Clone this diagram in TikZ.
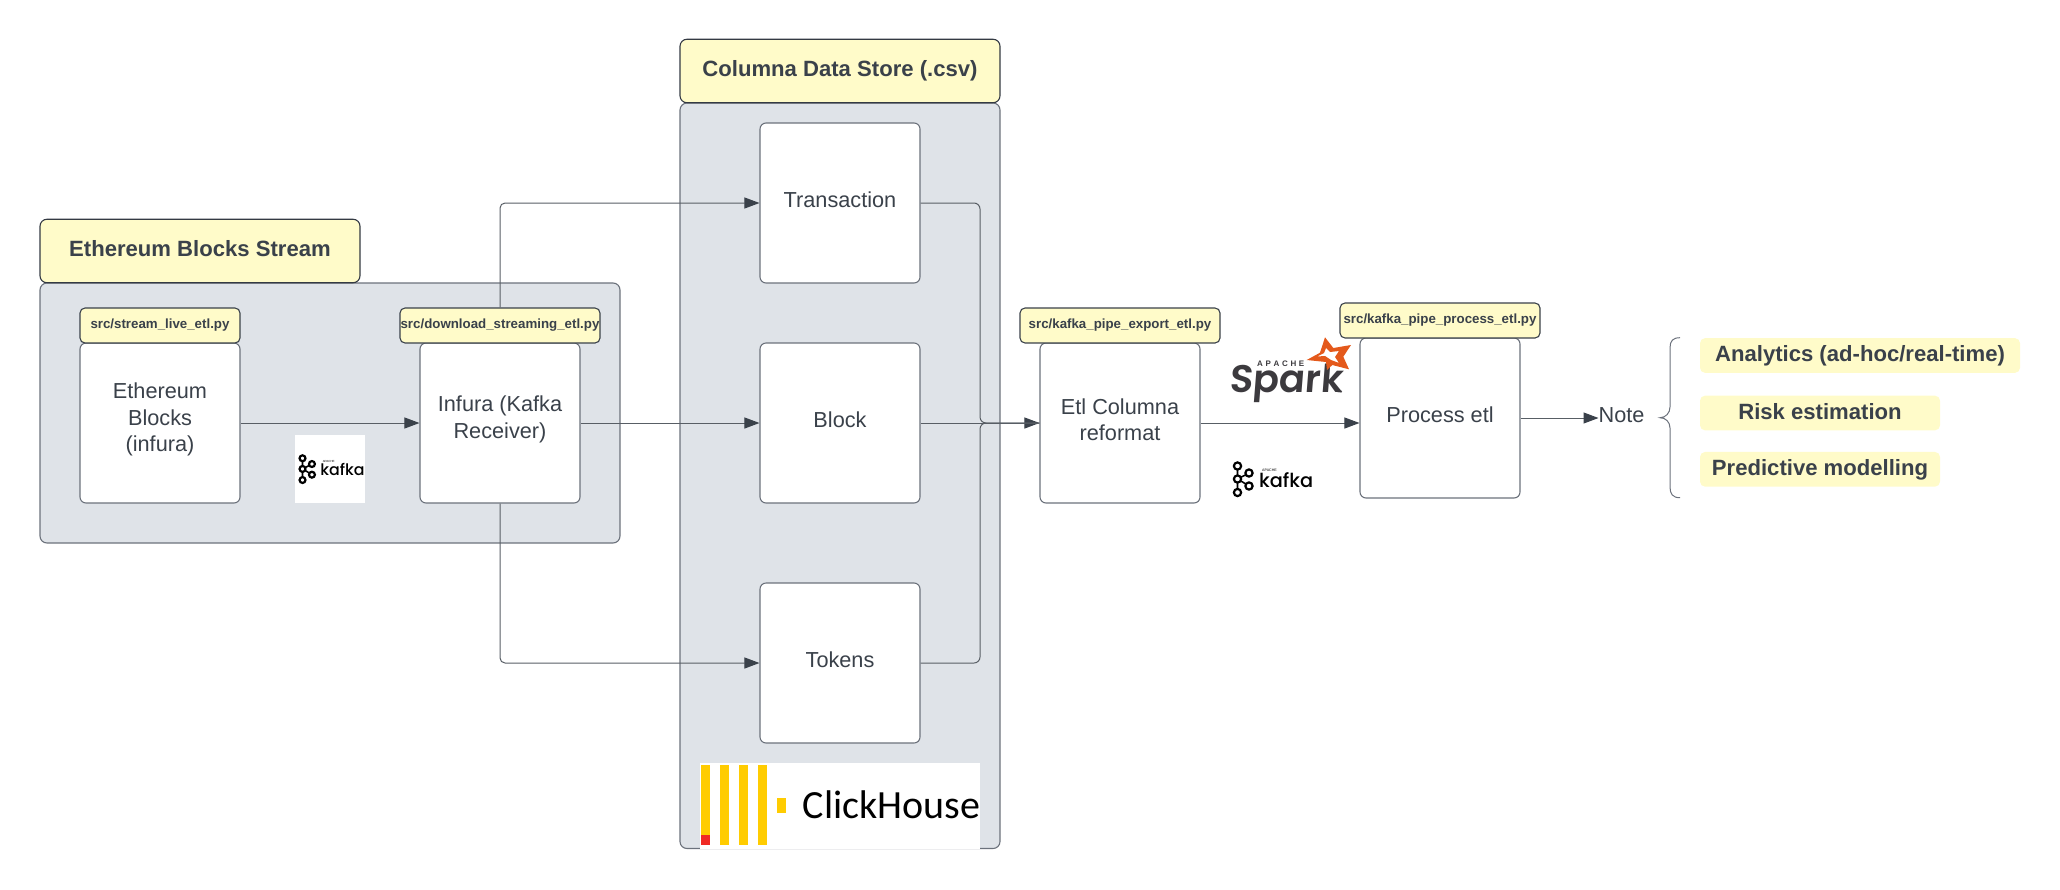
\documentclass[tikz,border=0pt]{standalone}
\usepackage{fontspec}
\setmainfont{Liberation Sans}
\newfontfamily\kafkafont{Poppins Medium}
\newfontfamily\sparkfont[FakeSlant=0.08]{Poppins SemiBold}
\newfontfamily\chfont{Carlito}
\usetikzlibrary{arrows.meta,calc}
\definecolor{ink}{HTML}{3A414A}
\definecolor{edgegrey}{HTML}{6C727C}
\definecolor{panelgrey}{HTML}{DFE3E8}
\definecolor{lemon}{HTML}{FFFBC9}
\definecolor{chyellow}{HTML}{FFCC01}
\definecolor{chred}{HTML}{F02A25}
\definecolor{sparkorange}{HTML}{E4591B}
\definecolor{sparkgrey}{HTML}{3C3A3E}
\tikzset{
  panel/.style={draw=edgegrey,line width=1.1pt,fill=panelgrey,rounded corners=7pt,inner sep=0pt,minimum width=#1},
  headbox/.style={draw=ink!90!black,line width=1.1pt,fill=lemon,rounded corners=7pt,inner sep=0pt,text=ink,font=\fontsize{22.1}{26}\selectfont\bfseries,minimum height=63.5pt,text height=16pt,text depth=6pt},
  tagbox/.style={draw=ink,line width=1.1pt,fill=lemon,rounded corners=5pt,inner sep=0pt,text=ink,font=\fontsize{13.3}{16}\selectfont\bfseries,minimum width=#1,minimum height=35pt,text height=10pt,text depth=4pt},
  procbox/.style={draw=edgegrey,line width=1.1pt,fill=white,rounded corners=6pt,inner sep=0pt,minimum width=160pt,minimum height=160pt},
  boxtext/.style={text=ink,font=\fontsize{21.7}{26.5}\selectfont,align=center,inner sep=0pt,yshift=3.4pt},
  notebox/.style={fill=lemon,rounded corners=5pt,inner sep=0pt,text=ink,font=\fontsize{22.1}{26}\selectfont\bfseries,minimum height=34.7pt,text height=17pt,text depth=4.4pt},
  wire/.style={draw=ink!85!white,line width=1pt},
  flow/.style={wire,-{Triangle[length=15pt,width=11pt,color=ink]}},
}
\newcommand{\kafkalogo}[3]{%
\begin{scope}[shift={(#1,#2)},scale=#3,transform shape]
  \foreach \cx/\cy in {5.5/4,5.5/17,5.5/30.5,17/11,17/24}
    \draw[black,line width=2.2pt] (\cx,\cy) circle (3.6pt);
  \draw[black,line width=1.6pt] (5.5,8)--(5.5,13) (5.5,21)--(5.5,26.5) (9,15.2)--(13.7,12.8) (9,19)--(13.7,22);
  \node[anchor=base west,inner sep=0pt,black,font=\kafkafont\fontsize{19.3}{20}\selectfont] at (27,25) {kafka};
  \node[anchor=base west,inner sep=0pt,black,font=\fontsize{3.6}{4}\selectfont] at (30,9.5) {APACHE};
  \node[anchor=base west,inner sep=0pt,black!70,font=\fontsize{4}{4}\selectfont] at (76,25) {®};
\end{scope}}
\begin{document}
\begin{tikzpicture}[x=1pt,y=-1pt]
\useasboundingbox (0,0) rectangle (2060,889);
% panels
\node[panel=580pt,minimum height=260pt] (ethpanel) at (330,413) {};
\node[panel=320pt,minimum height=745.5pt] (colpanel) at (840,475.75) {};
\node[headbox,minimum width=320pt] (ethhead) at (200,251) {Ethereum Blocks Stream};
\node[headbox,minimum width=320pt] (colhead) at (840,71) {Columna Data Store (.csv)};
% clickhouse logo
\fill[white] (700,762.5) rectangle (980,849);
\foreach \bx in {700.7,719.7,738.7,757.7} \fill[chyellow] (\bx,765) rectangle +(9.6,80);
\fill[chred] (700.7,835) rectangle (710.3,845);
\fill[chyellow] (776.5,797.7) rectangle (786,812.7);
\node[anchor=base west,inner sep=0pt,black,font=\chfont\fontsize{40}{40}\selectfont] (chname) at (802.5,818) {ClickHouse};
% process boxes
\node[procbox,label={[boxtext]center:Ethereum\\Blocks\\(infura)}] (eth) at (160,423) {};
\node[procbox,label={[boxtext]center:Infura (Kafka\\Receiver)}] (inf) at (500,423) {};
\node[procbox,label={[boxtext]center:Transaction}] (trans) at (840,203) {};
\node[procbox,label={[boxtext]center:Block}] (block) at (840,423) {};
\node[procbox,label={[boxtext]center:Tokens}] (tok) at (840,663) {};
\node[procbox,label={[boxtext]center:Etl Columna\\reformat}] (etl) at (1120,423) {};
\node[procbox,label={[boxtext]center:Process etl}] (proc) at (1440,418) {};
% tags
\node[tagbox=160pt] (tageth) at (160,325.5) {src/stream\_live\_etl.py};
\node[tagbox=200pt] (taginf) at (500,325.5) {src/download\_streaming\_etl.py};
\node[tagbox=200pt] (tagetl) at (1120,325.5) {src/kafka\_pipe\_export\_etl.py};
\node[tagbox=200pt] (tagproc) at (1440,320.5) {src/kafka\_pipe\_process\_etl.py};
% note and list
\node[anchor=west,inner sep=0pt,text=ink,font=\fontsize{21.7}{26}\selectfont] (note) at (1598.5,415) {Note};
\node[notebox,minimum width=320pt] (n1) at (1860,355.5) {Analytics (ad-hoc/real-time)};
\node[notebox,minimum width=240pt] (n2) at (1820,413) {Risk estimation};
\node[notebox,minimum width=240pt] (n3) at (1820,469.3) {Predictive modelling};
\draw[wire,edgegrey] (1680,337.7) .. controls (1672.6,337.7) and (1670,341) .. (1670,348) -- (1670,407) .. controls (1670,413) and (1665.6,417.7) .. (1660,417.7) .. controls (1665.6,417.7) and (1670,422) .. (1670,428) -- (1670,487) .. controls (1670,494) and (1672.6,497.7) .. (1680,497.7);
% merge point
\coordinate (merge) at (980,423);
% connectors
\draw[flow] (eth.east) -- (inf.west);
\draw[flow] (inf.east) -- (block.west);
\draw[flow,rounded corners=5pt] (taginf.north) |- (trans.west);
\draw[flow,rounded corners=5pt] (inf.south) |- (tok.west);
\draw[flow] (block.east) -- (etl.west);
\draw[wire,rounded corners=6pt] (trans.east) -| (merge) -- (etl.west);
\draw[wire,rounded corners=6pt] (tok.east) -| (merge) -- (etl.west);
\draw[flow] (etl.east) -- (etl.east -| proc.west);
\draw[flow] (proc.east) -- (note.west |- proc.east);
% kafka logos
\fill[white] (295,435) rectangle (365,503);
\kafkalogo{298}{455}{0.82}
\kafkalogo{1232}{462}{1}
% spark logo
\node[anchor=base west,inner sep=0pt,text=sparkgrey,font=\sparkfont\fontsize{38.5}{39}\selectfont] (sparkname) at (1229,392) {Spark};
\node[anchor=base west,inner sep=0pt,text=sparkgrey,font=\fontsize{8}{8}\selectfont\bfseries] (sparkapache) at (1257,366.5) {A\,\,P\,\,A\,\,C\,\,H\,\,E};
\node[anchor=base west,inner sep=0pt,text=sparkgrey,font=\fontsize{3.5}{4}\selectfont] (sparktm) at (1337,393) {TM};
\fill[sparkorange,even odd rule]
  (1325,337.3) -- (1333.3,348) -- (1351,345) -- (1343.3,356.7) -- (1349,369.3) -- (1332.3,365) -- (1327,370) -- (1326,362) -- (1306.7,360) -- (1320,352.7) -- cycle
  (1326,348) -- (1330,352) -- (1339,351) -- (1335,357) -- (1339,363) -- (1331,360) -- (1325,356) -- (1317,356.5)-- (1324,353) -- cycle;
\end{tikzpicture}
\end{document}
